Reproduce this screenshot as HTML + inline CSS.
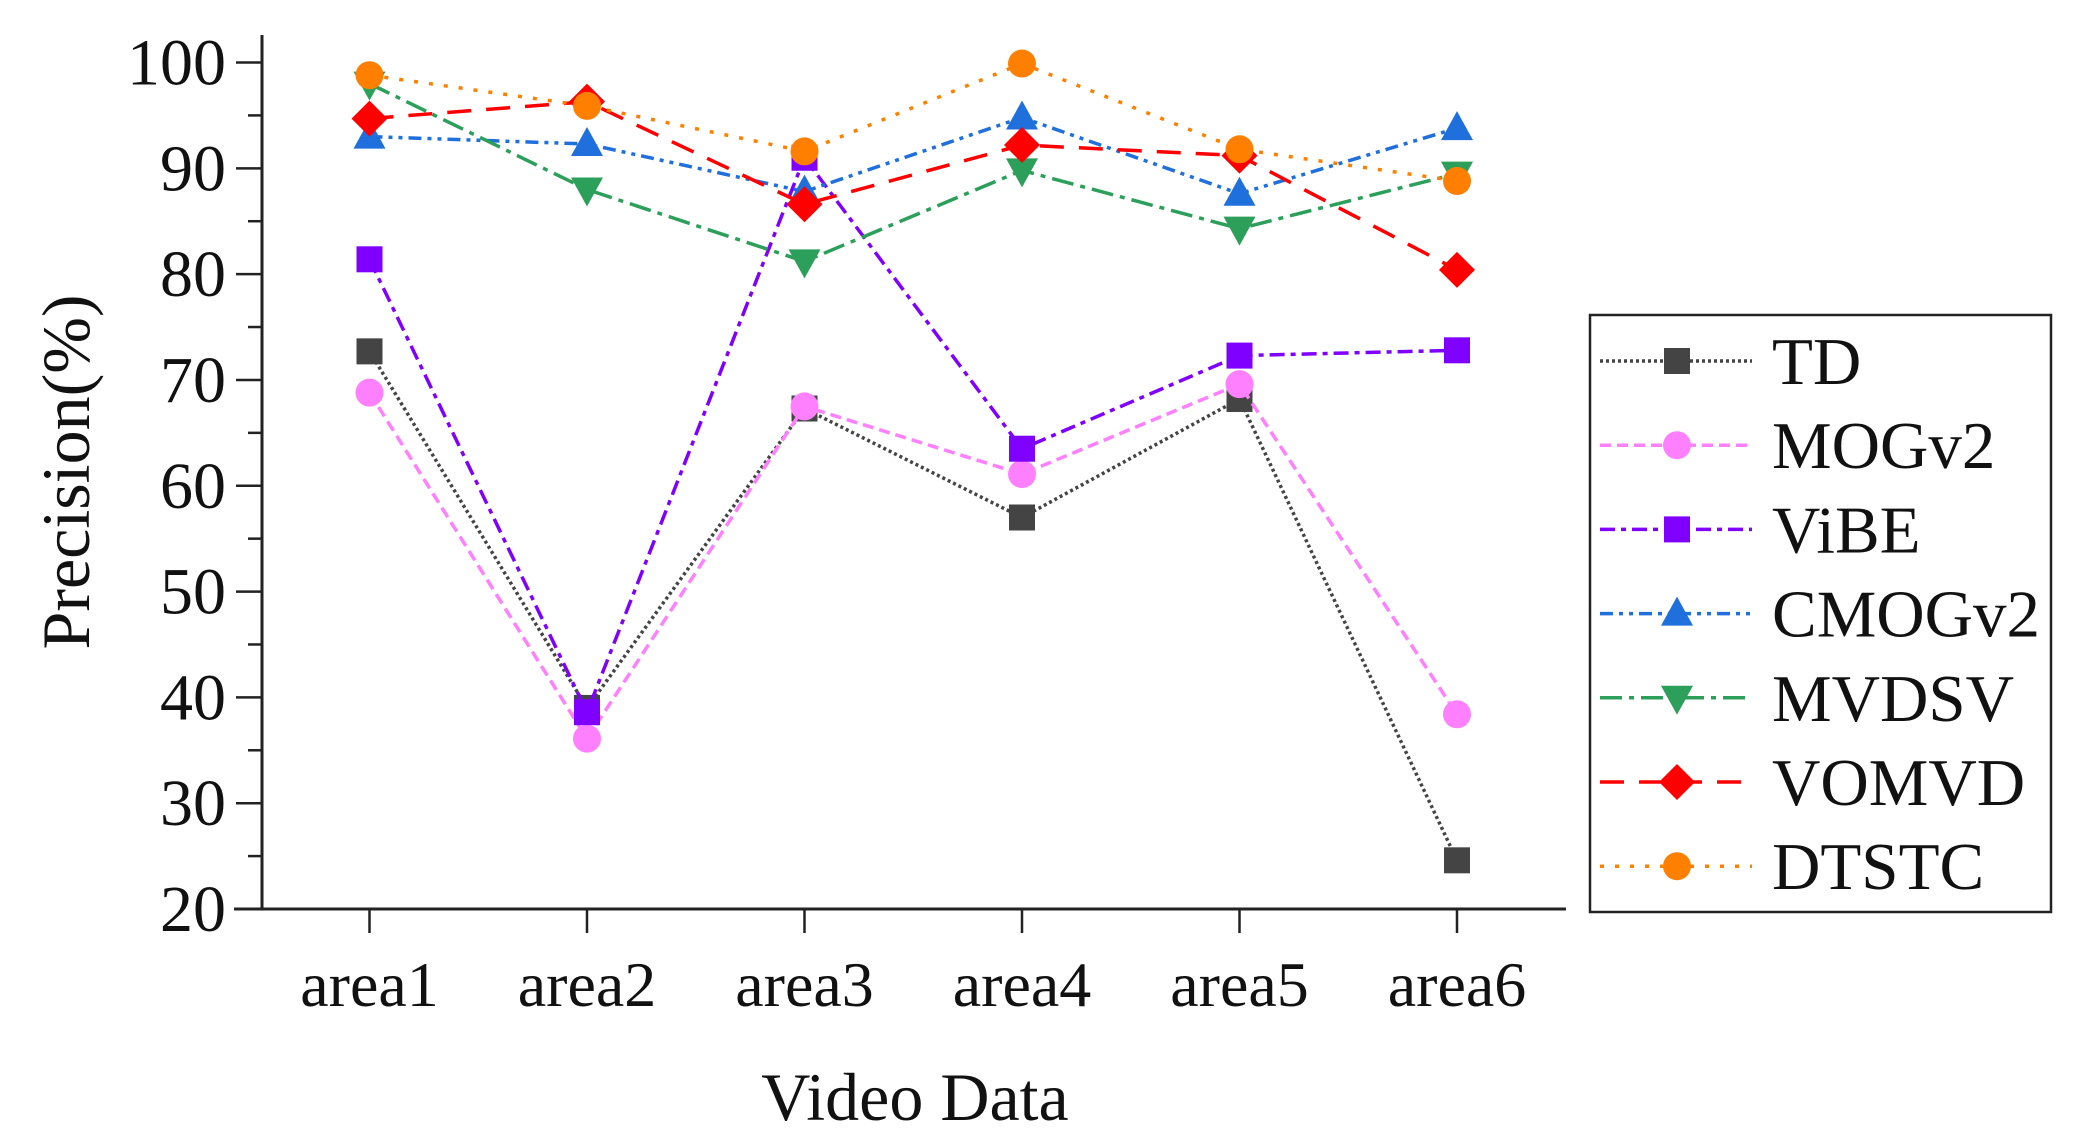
<!DOCTYPE html>
<html><head><meta charset="utf-8"><style>
html,body{margin:0;padding:0;background:#fff;}
svg{display:block;font-family:"Liberation Serif",serif;}
</style></head><body>
<svg id="chart" width="2084" height="1146" viewBox="0 0 2084 1146">
<g id="axes"></g>
<g id="series"></g>
<g id="legend"></g>
</svg>
<script>
const categories = ["area1","area2","area3","area4","area5","area6"];
const yTicks = [20,30,40,50,60,70,80,90,100];
const seriesNames = ["TD","MOGv2","ViBE","CMOGv2","MVDSV","VOMVD","DTSTC"];
const tdValues = [72.7,39,67.3,57,68.2,24.6];
const mogValues = [68.8,36.1,67.5,61.1,69.6,38.4];
const vibeValues = [81.4,38.6,91,63.5,72.3,72.8];
const cmogValues = [93,92.3,87.8,94.8,87.6,93.8];
const mvdsvValues = [98,88,81.2,89.8,84.3,89.5];
const vomvdValues = [94.7,96.3,86.6,92.2,91.2,80.4];
const dtstcValues = [98.8,95.9,91.6,99.9,91.8,88.8];

const NS="http://www.w3.org/2000/svg";
function mk(tag,attrs,parent){const e=document.createElementNS(NS,tag);for(const k in attrs)e.setAttribute(k,attrs[k]);parent.appendChild(e);return e;}
const x0=262, xEnd=1566, yTop=35, yBase=909;
const yMin=20,yMax=100, yPix100=62.5;
function ys(v){return yBase-(v-yMin)*(yBase-yPix100)/(yMax-yMin);}
function xs(i){return 369.5+i*217.5;}

const axes=document.getElementById('axes');
let l=mk('line',{x1:x0,y1:yTop,x2:x0,y2:yBase,stroke:'#222','stroke-width':3},axes);


l=mk('line',{x1:234,y1:yBase,x2:xEnd,y2:yBase,stroke:'#222','stroke-width':3},axes);


for(let v=yMin; v<=yMax; v+=5){
  const major=(v%10===0);
  const t=mk('line',{x1:major?236:248,y1:ys(v),x2:x0,y2:ys(v),stroke:'#222','stroke-width':2.5},axes);
  
  
}
yTicks.forEach(v=>{
  const t=mk('text',{x:226,y:ys(v)+22,'text-anchor':'end','font-size':66,fill:'#111'},axes);
  t.textContent=v;
  
  
});
categories.forEach((c,i)=>{
  const t=mk('line',{x1:xs(i),y1:yBase,x2:xs(i),y2:yBase+24,stroke:'#222','stroke-width':2.5},axes);
  
  
  const tx=mk('text',{x:xs(i),y:1006,'text-anchor':'middle','font-size':64,fill:'#111'},axes);
  tx.textContent=c;
  
  
});
let tt=mk('text',{x:915,y:1120,'text-anchor':'middle','font-size':68,fill:'#111'},axes);
tt.textContent='Video Data';


tt=mk('text',{x:0,y:0,'text-anchor':'middle','font-size':68,fill:'#111',transform:'translate(89,472) rotate(-90)'},axes);
tt.textContent='Precision(%)';



const styles=[
 {c:'#444444',d:'3 3',m:'square',v:tdValues},
 {c:'#ff80ff',d:'11 6',m:'circle',v:mogValues},
 {c:'#7f00ff',d:'15 6 5 6',m:'square',v:vibeValues},
 {c:'#1f6fdc',d:'13 6 4 6 4 6',m:'triangle',v:cmogValues},
 {c:'#2ca05a',d:'22 7 5 7',m:'tridown',v:mvdsvValues},
 {c:'#ff0000',d:'24 15',m:'diamond',v:vomvdValues},
 {c:'#ff8000',d:'4 11',m:'circle',v:dtstcValues}
];
function marker(g,type,x,y,col){
  let e;
  const s=13;
  if(type==='square') e=mk('rect',{x:x-s,y:y-s,width:2*s,height:2*s,fill:col},g);
  else if(type==='circle') e=mk('circle',{cx:x,cy:y,r:s+1,fill:col},g);
  else if(type==='triangle') e=mk('polygon',{points:`${x},${y-17} ${x+16},${y+12} ${x-16},${y+12}`,fill:col},g);
  else if(type==='tridown') e=mk('polygon',{points:`${x},${y+17} ${x+16},${y-12} ${x-16},${y-12}`,fill:col},g);
  else e=mk('polygon',{points:`${x},${y-18} ${x+18},${y} ${x},${y+18} ${x-18},${y}`,fill:col},g);
  return e;
}
const sg=document.getElementById('series');
styles.forEach((s,k)=>{
  const g=mk('g',{},sg);
  
  
  const pts=s.v.map((v,i)=>xs(i)+','+ys(v)).join(' ');
  const pl=mk('polyline',{points:pts,fill:'none',stroke:s.c,'stroke-width':3.5,'stroke-dasharray':s.d},g);
  
  
  s.v.forEach((v,i)=>{
    const m=marker(g,s.m,xs(i),ys(v),s.c);
    
    
  });
});
const lg=document.getElementById('legend');
let box=mk('rect',{x:1590,y:315,width:461,height:597,fill:'#fff',stroke:'#222','stroke-width':2.5},lg);


styles.forEach((s,k)=>{
  const y=361+k*84.2;
  const g=mk('g',{},lg);
  
  
  mk('line',{x1:1600,y1:y,x2:1752,y2:y,stroke:s.c,'stroke-width':3.5,'stroke-dasharray':s.d},g);
  marker(g,s.m,1677,y,s.c);
  const t=mk('text',{x:1772,y:y+23,'font-size':67,fill:'#111'},g);
  t.textContent=seriesNames[k];
});
</script>
</body></html>
